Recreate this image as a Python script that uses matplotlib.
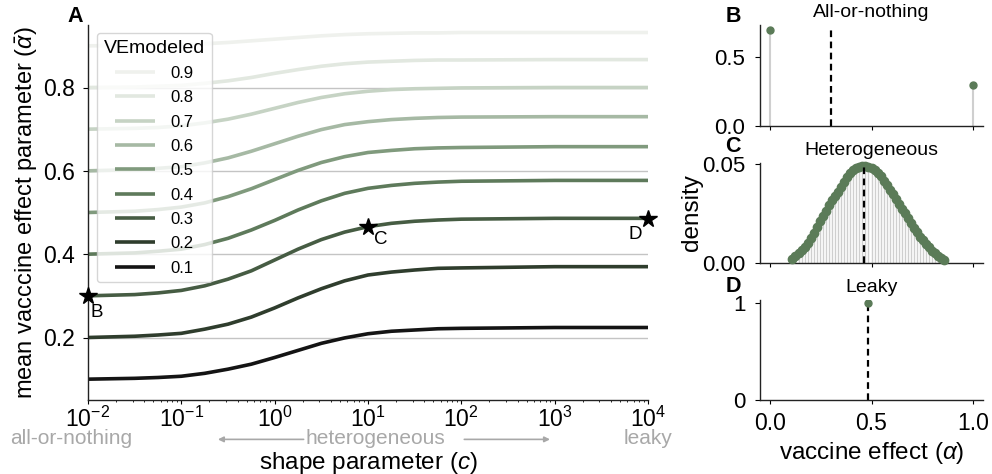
import matplotlib

matplotlib.use("Agg")

import matplotlib.pyplot as plt
import numpy as np

plt.rcParams.update(
    {
        "font.family": ["Liberation Sans", "DejaVu Sans"],
        "mathtext.fontset": "custom",
        "mathtext.rm": "Liberation Sans",
        "mathtext.it": "Liberation Sans:italic",
        "mathtext.bf": "Liberation Sans:bold",
        "axes.spines.top": False,
        "axes.spines.right": False,
        "axes.linewidth": 1.0,
        "axes.edgecolor": "#222222",
        "xtick.labelsize": 16.5,
        "ytick.labelsize": 16.5,
        "xtick.major.size": 3,
        "ytick.major.size": 3.5,
        "xtick.minor.size": 1.5,
        "xtick.major.pad": 1.5,
        "ytick.major.pad": 6,
    }
)

# ---- data: panel A (mean vaccine effect vs shape parameter) ----
ve_modeled = [0.1, 0.2, 0.3, 0.4, 0.5, 0.6, 0.7, 0.8, 0.9]
log_c = [-2, -1.5, -1.25, -1, -0.75, -0.5, -0.25, 0, 0.25, 0.5, 0.75, 1,
         1.25, 1.5, 1.75, 2, 3, 4]
alpha_bar = [
    [0.100, 0.102, 0.104, 0.107, 0.114, 0.124, 0.136, 0.152, 0.169, 0.186, 0.199, 0.209, 0.215, 0.218, 0.221, 0.222, 0.224, 0.224],
    [0.200, 0.203, 0.206, 0.210, 0.220, 0.232, 0.249, 0.271, 0.295, 0.317, 0.336, 0.350, 0.357, 0.362, 0.366, 0.367, 0.370, 0.370],
    [0.300, 0.303, 0.307, 0.313, 0.324, 0.340, 0.360, 0.386, 0.412, 0.435, 0.453, 0.466, 0.474, 0.479, 0.482, 0.484, 0.486, 0.486],
    [0.400, 0.403, 0.407, 0.412, 0.423, 0.438, 0.458, 0.481, 0.506, 0.528, 0.546, 0.558, 0.565, 0.570, 0.573, 0.575, 0.577, 0.577],
    [0.500, 0.503, 0.507, 0.513, 0.523, 0.538, 0.557, 0.579, 0.601, 0.620, 0.634, 0.644, 0.649, 0.653, 0.655, 0.656, 0.658, 0.658],
    [0.600, 0.603, 0.606, 0.610, 0.619, 0.631, 0.647, 0.665, 0.683, 0.699, 0.711, 0.718, 0.723, 0.726, 0.728, 0.729, 0.730, 0.730],
    [0.700, 0.702, 0.704, 0.708, 0.715, 0.724, 0.736, 0.750, 0.764, 0.776, 0.785, 0.791, 0.795, 0.797, 0.798, 0.799, 0.800, 0.800],
    [0.800, 0.801, 0.803, 0.805, 0.810, 0.816, 0.824, 0.834, 0.843, 0.851, 0.857, 0.861, 0.863, 0.865, 0.866, 0.866, 0.867, 0.867],
    [0.900, 0.901, 0.901, 0.903, 0.905, 0.908, 0.912, 0.916, 0.920, 0.924, 0.927, 0.929, 0.930, 0.931, 0.931, 0.932, 0.932, 0.932],
]
line_colors = ["#141414", "#2f3d2d", "#465c43", "#5e7a5b", "#809a7d",
               "#a6b9a4", "#c6d3c4", "#e2e8e0", "#eff1ed"]

# highlighted points (label, c, alpha_bar)
star_labels = ["B", "C", "D"]
star_c = [0.01, 10, 1e4]
star_alpha = [0.30, 0.465, 0.485]

# ---- data: panels B-D (distributions of vaccine effect) ----
aon_alpha = [0.0, 1.0]
aon_prob = [0.70, 0.30]
aon_mean = 0.30

het_alpha = np.linspace(0.11, 0.86, 51)
het_dens = [
    0.0020, 0.0035, 0.0050, 0.0066, 0.0083, 0.0100, 0.0125, 0.0150, 0.0180, 0.0210,
    0.0238, 0.0265, 0.0292, 0.0318, 0.0340, 0.0360, 0.0385, 0.0410, 0.0435, 0.0455,
    0.0468, 0.0478, 0.0485, 0.0490, 0.0490, 0.0486, 0.0478, 0.0468, 0.0455, 0.0437,
    0.0415, 0.0393, 0.0370, 0.0350, 0.0325, 0.0300, 0.0275, 0.0250, 0.0225, 0.0200,
    0.0178, 0.0155, 0.0133, 0.0115, 0.0097, 0.0080, 0.0063, 0.0048, 0.0035, 0.0023,
    0.0013,
]
het_mean = 0.465

leaky_alpha = [0.485]
leaky_prob = [1.0]
leaky_mean = 0.485

GREEN = "#5b7b58"
STEM = "#cfcfcf"
GRAY_TXT = "#a8a8a8"

W, H = 992, 474
fig = plt.figure(figsize=(W / 100, H / 100), dpi=100)


def px_rect(x0, y0, x1, y1):
    return [x0 / W, 1 - y1 / H, (x1 - x0) / W, (y1 - y0) / H]


# ---------------- panel A ----------------
ax = fig.add_axes(px_rect(88, 25, 648, 400))
c_vals = 10.0 ** np.array(log_c)
for ve, ys, col in zip(ve_modeled, alpha_bar, line_colors):
    ax.plot(c_vals, ys, color=col, lw=2.6, label=f"{ve:.1f}",
            solid_capstyle="butt", solid_joinstyle="round")

ax.set_xscale("log")
ax.set_xlim(1e-2, 1e4)
ax.set_ylim(0.05, 0.95)
ax.set_yticks([0.2, 0.4, 0.6, 0.8])
ax.yaxis.grid(True, color="#c4c4c4", lw=1.0)
ax.set_axisbelow(True)
ax.tick_params(axis="x", which="minor", length=1.5, width=0.6)

ax.plot(star_c, star_alpha, ls="none", marker="*", ms=13, color="black",
        clip_on=False, zorder=5)
offsets = [(6, -12), (9, -9), (-9, -11)]
for lab, cx, ay, off in zip(star_labels, star_c, star_alpha, offsets):
    ax.annotate(lab, (cx, ay), xytext=off, textcoords="offset points",
                fontsize=13.5, ha="center", va="center")

ax.set_ylabel(r"mean vacccine effect parameter ($\bar{\alpha}$)", fontsize=17,
              labelpad=2)
ax.set_xlabel(r"shape parameter ($c$)", fontsize=17.5, labelpad=13)

handles, labels = ax.get_legend_handles_labels()
leg = ax.legend(handles[::-1], labels[::-1], title="VEmodeled", loc="upper left",
                bbox_to_anchor=(0.016, 0.979), borderaxespad=0.0,
                fontsize=12, title_fontsize=14,
                handlelength=2.4, labelspacing=0.56, handletextpad=0.9,
                framealpha=0.8, edgecolor="#cccccc", borderpad=0.4)

ax.text(-0.03, -0.103, "all-or-nothing", transform=ax.transAxes, ha="center",
        va="center", fontsize=15, color=GRAY_TXT)
ax.text(0.513, -0.103, "heterogeneous", transform=ax.transAxes, ha="center",
        va="center", fontsize=15, color=GRAY_TXT)
ax.text(1.0, -0.103, "leaky", transform=ax.transAxes, ha="center",
        va="center", fontsize=15, color=GRAY_TXT)
arrow_kw = dict(arrowstyle="-|>", color=GRAY_TXT, lw=1.2, mutation_scale=8)
ax.annotate("", xy=(0.227, -0.105), xytext=(0.39, -0.105), xycoords="axes fraction",
            textcoords="axes fraction", arrowprops=arrow_kw)
ax.annotate("", xy=(0.83, -0.105), xytext=(0.667, -0.105), xycoords="axes fraction",
            textcoords="axes fraction", arrowprops=arrow_kw)

# ---------------- panels B, C, D ----------------
axB = fig.add_axes(px_rect(760, 25, 983, 126))
axC = fig.add_axes(px_rect(760, 163, 983, 263))
axD = fig.add_axes(px_rect(760, 300, 983, 400))

for a in (axB, axC, axD):
    a.set_xlim(-0.05, 1.05)
    a.set_xticks([0.0, 0.5, 1.0])
    a.tick_params(axis="x", pad=6)
    a.tick_params(axis="y", pad=7, labelsize=16)

axB.vlines(aon_alpha, 0, aon_prob, color=STEM, lw=1.5)
axB.plot(aon_alpha, aon_prob, "o", color=GREEN, ms=5, clip_on=False, zorder=3)
axB.vlines(aon_mean, 0, max(aon_prob), color="black", ls=(0, (3, 2)), lw=1.6)
axB.set_ylim(0, 0.735)
axB.set_yticks([0.0, 0.5])
axB.set_xticklabels([])
axB.set_title("All-or-nothing", fontsize=14, pad=6)

axC.vlines(het_alpha, 0, het_dens, color=STEM, lw=1.0)
axC.plot(het_alpha, het_dens, "o", color=GREEN, ms=6, clip_on=False, zorder=3)
axC.vlines(het_mean, 0, max(het_dens), color="black", ls=(0, (3, 2)), lw=1.6,
           zorder=4)
axC.set_ylim(0, 0.0505)
axC.set_yticks([0.0, 0.05])
axC.set_yticklabels(["0.00", "0.05"])
axC.set_xticklabels([])
axC.set_ylabel("density", fontsize=17.5)
axC.yaxis.set_label_coords(-0.255, 0.5)
axC.set_title("Heterogeneous", fontsize=14, pad=6)

axD.vlines(leaky_mean, 0, max(leaky_prob), color="black", ls=(0, (3, 2)), lw=1.6)
axD.plot(leaky_alpha, leaky_prob, "o", color=GREEN, ms=5, zorder=3)
axD.set_ylim(0, 1.03)
axD.set_yticks([0, 1])
axD.set_xticklabels(["0.0", "0.5", "1.0"])
axD.set_xlabel(r"vaccine effect ($\alpha$)", fontsize=17.5, labelpad=3)
axD.set_title("Leaky", fontsize=14, pad=6)

for lab, x, y in [("A", 75, 17), ("B", 733, 17), ("C", 733, 146), ("D", 733, 286)]:
    fig.text(x / W, 1 - y / H, lab, fontsize=15.5, fontweight="bold",
             ha="center", va="center")

fig.savefig("out.png", dpi=100)
